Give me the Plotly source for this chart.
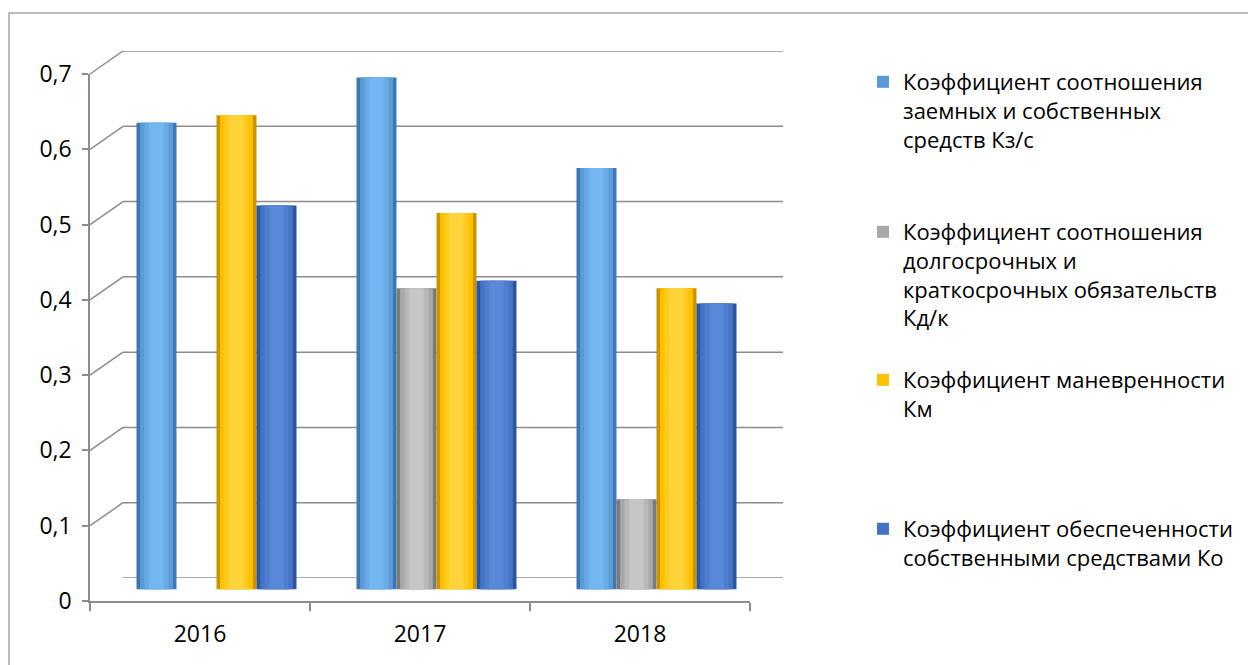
import plotly.graph_objects as go

# ---------------- data ----------------
categories = ["2016", "2017", "2018"]
kzs = [0.62, 0.68, 0.56]   # Коэффициент соотношения заемных и собственных средств Кз/с
kdk = [0.0, 0.40, 0.12]    # Коэффициент соотношения долгосрочных и краткосрочных обязательств Кд/к
km = [0.63, 0.50, 0.40]    # Коэффициент маневренности Км
ko = [0.51, 0.41, 0.38]    # Коэффициент обеспеченности собственными средствами Ко

series_names = [
    "Коэффициент соотношения<br>заемных и собственных<br>средств Кз/с",
    "Коэффициент соотношения<br>долгосрочных и<br>краткосрочных обязательств<br>Кд/к",
    "Коэффициент маневренности<br>Км",
    "Коэффициент обеспеченности<br>собственными средствами Ко",
]
series_values = [kzs, kdk, km, ko]
y_ticks = [0, 0.1, 0.2, 0.3, 0.4, 0.5, 0.6, 0.7]

# ---------------- styles ----------------
W, H = 1248, 665
FONT = "Open Sans"
GRID = "#8C8C8C"
# (edge colour, main colour, highlight colour) per series
palettes = [
    ("#3D76B5", "#5B9BD5", "#74B6F0"),
    ("#7A7A7A", "#A8A8A8", "#C6C6C6"),
    ("#C89500", "#FFC000", "#FFD43A"),
    ("#2B559E", "#4472C4", "#5A88D8"),
]


def px_x(p):
    return p / W


def px_y(p):
    return 1 - p / H


def mix(c1, c2, t):
    a = [int(c1[i:i + 2], 16) for i in (1, 3, 5)]
    b = [int(c2[i:i + 2], 16) for i in (1, 3, 5)]
    return "#%02X%02X%02X" % tuple(round(a[k] + (b[k] - a[k]) * t) for k in range(3))


fig = go.Figure()

# front axes (labels / front edges)
fig.add_trace(go.Scatter(x=categories, y=[None] * 3, xaxis="x", yaxis="y",
                         showlegend=False, hoverinfo="skip"))
# back wall
fig.add_trace(go.Scatter(x=categories, y=[None] * 3, xaxis="x2", yaxis="y2",
                         showlegend=False, hoverinfo="skip"))

# bars (cylinder-like shading with stacked narrower layers)
bw = 40 / 220.0
layer_fracs = [1.0, 0.82, 0.6, 0.36]
layer_t = [0.0, 0.45, 0.75, 1.0]
legends = ["legend", "legend2", "legend3", "legend4"]
for i, (name, vals) in enumerate(zip(series_names, series_values)):
    edge, main, hi = palettes[i]
    base_off = -2 * bw + i * bw
    for j, (f, t) in enumerate(zip(layer_fracs, layer_t)):
        if t <= 0.45:
            col = mix(edge, main, t / 0.45)
        else:
            col = mix(main, hi, (t - 0.45) / 0.55)
        fig.add_trace(go.Bar(
            x=categories, y=vals, xaxis="x3", yaxis="y3",
            width=bw * f, offset=base_off + (1 - f) * bw / 2,
            marker=dict(color=main if j == 1 else col, line=dict(width=0)),
            name=name, showlegend=(j == 1), legend=legends[i],
            legendgroup=f"s{i}", hoverinfo="y",
        ))

axis_font = dict(family=FONT, size=23, color="#000000")

layout = dict(
    width=W, height=H,
    margin=dict(l=0, r=0, t=0, b=0, autoexpand=False),
    paper_bgcolor="white", plot_bgcolor="rgba(0,0,0,0)",
    separators=", ",
    barmode="overlay",
    font=dict(family=FONT, size=22, color="#000000"),
    # front axes
    xaxis=dict(domain=[px_x(90), px_x(750)], anchor="y", type="category",
               range=[-0.5, 2.5], showline=True, linecolor=GRID, linewidth=1.5,
               ticks="outside", tickson="boundaries", ticklen=8, tickcolor=GRID,
               tickwidth=1.5, showgrid=False, zeroline=False, tickfont=axis_font,
               ticklabelstandoff=12, automargin=False),
    yaxis=dict(domain=[px_y(601), px_y(74)], anchor="x", range=[0, 0.7],
               tickvals=y_ticks, showline=True, linecolor=GRID, linewidth=1.5,
               ticks="outside", ticklen=6, tickcolor=GRID, tickwidth=1.5,
               showgrid=False, zeroline=False, tickfont=axis_font,
               ticklabelstandoff=6, automargin=False),
    # back wall
    xaxis2=dict(domain=[px_x(123), px_x(783)], anchor="y2", type="category",
                range=[-0.5, 2.5], visible=False, automargin=False),
    yaxis2=dict(domain=[px_y(578), px_y(51)], anchor="x2", range=[0, 0.7],
                visible=False, automargin=False),
    # bars (mid depth)
    xaxis3=dict(domain=[px_x(106.5), px_x(766.5)], anchor="y3", type="category",
                range=[-0.5, 2.5], visible=False, automargin=False),
    yaxis3=dict(domain=[px_y(589.5), px_y(62.5)], anchor="x3", range=[0, 0.7],
                visible=False, automargin=False),
)

legend_tops = [61, 211, 359, 508]
for name, top in zip(legends, legend_tops):
    layout[name] = dict(x=px_x(863), y=px_y(top), xanchor="left", yanchor="top",
                        bgcolor="rgba(0,0,0,0)", valign="top",
                        font=dict(family=FONT, size=22, color="#000000"),
                        itemclick=False, itemdoubleclick=False)

shapes = []
# outer chart border
shapes.append(dict(type="rect", xref="paper", yref="paper",
                   x0=px_x(9), x1=1.05, y0=-0.05, y1=px_y(13),
                   line=dict(color="#A6A6A6", width=1.5), layer="below"))
# back wall gridlines and perspective connectors to the front axis
for v in y_ticks:
    shapes.append(dict(type="line", xref="paper", yref="y2",
                       x0=px_x(123), x1=px_x(783), y0=v, y1=v,
                       line=dict(color=GRID, width=1.5), layer="below"))
    shapes.append(dict(type="path", xref="paper", yref="y2",
                       xsizemode="pixel", ysizemode="pixel",
                       xanchor=px_x(123), yanchor=v,
                       path="M-33,-23 L0,0",
                       line=dict(color=GRID, width=1.5), layer="below"))
# right floor edge
shapes.append(dict(type="path", xref="paper", yref="y2",
                   xsizemode="pixel", ysizemode="pixel",
                   xanchor=px_x(783), yanchor=0,
                   path="M-33,-23 L0,0",
                   line=dict(color=GRID, width=1.5), layer="below"))
layout["shapes"] = shapes

fig.update_layout(**layout)
fig.write_html("out.html")
